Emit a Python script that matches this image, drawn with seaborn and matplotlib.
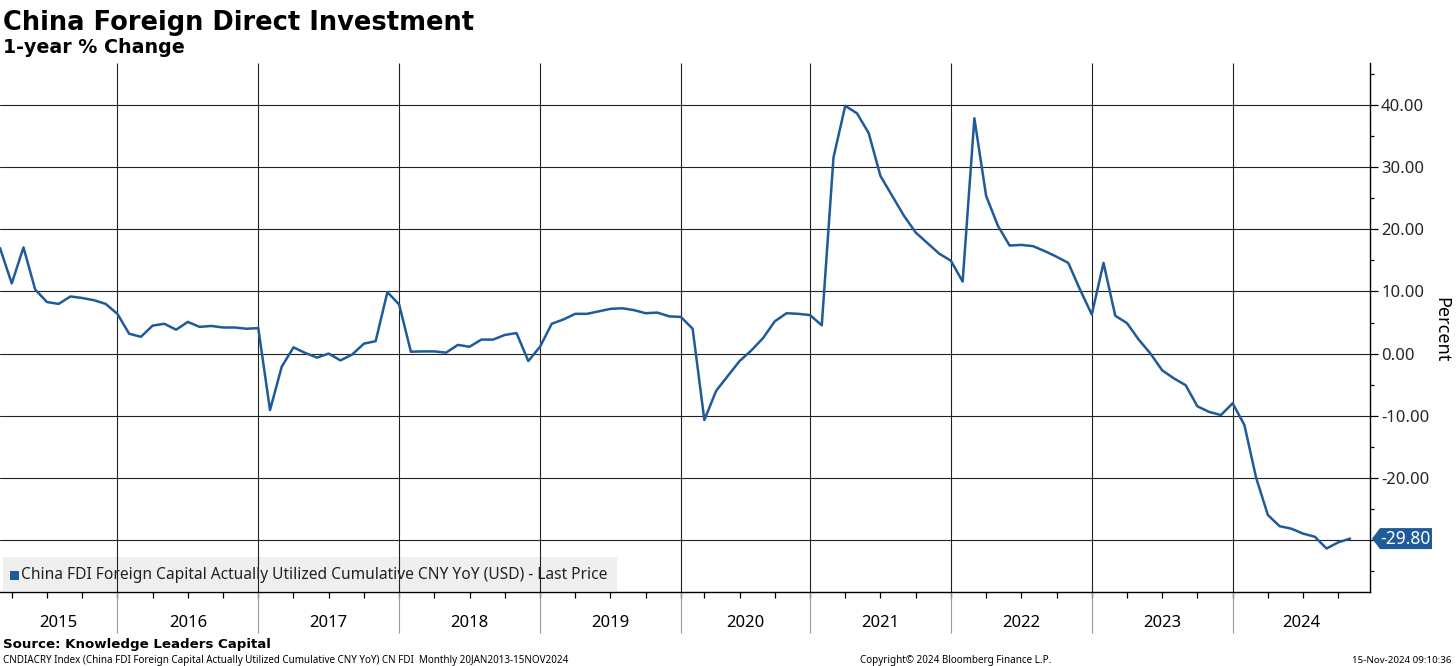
import numpy as np
import pandas as pd
import matplotlib
matplotlib.use("Agg")
import matplotlib.pyplot as plt
import seaborn as sns
from matplotlib.patches import Rectangle, Polygon
from matplotlib.transforms import blended_transform_factory

# ---------------- data ----------------
years = [2015, 2016, 2017, 2018, 2019, 2020, 2021, 2022, 2023, 2024]

months_2015 = [2, 3, 4, 5, 6, 7, 8, 9, 10, 11, 12]
months_2016 = [1, 2, 3, 4, 5, 6, 7, 8, 9, 10, 11, 12]
months_2017 = [1, 2, 3, 4, 5, 6, 7, 8, 9, 10, 11, 12]
months_2018 = [1, 2, 3, 4, 5, 6, 7, 8, 9, 10, 11, 12]
months_2019 = [1, 2, 3, 4, 5, 6, 7, 8, 9, 10, 11, 12]
months_2020 = [1, 3, 4, 5, 6, 7, 8, 9, 10, 11, 12]
months_2021 = [1, 2, 3, 4, 5, 6, 7, 8, 9, 10, 11, 12]
months_2022 = [1, 2, 3, 4, 5, 6, 7, 8, 9, 10, 11, 12]
months_2023 = [1, 2, 3, 4, 5, 6, 7, 8, 9, 10, 11, 12]
months_2024 = [1, 2, 3, 4, 5, 6, 7, 8, 9, 10]

yoy_2015 = [17.0, 11.3, 17.1, 10.3, 8.3, 8.0, 9.2, 8.95, 8.6, 8.0, 6.4]
yoy_2016 = [3.2, 2.7, 4.5, 4.8, 3.85, 5.1, 4.3, 4.45, 4.2, 4.2, 4.0, 4.1]
yoy_2017 = [-9.1, -2.1, 1.0, 0.1, -0.65, 0.0, -1.1, -0.15, 1.6, 2.0, 9.9, 7.9]
yoy_2018 = [0.3, 0.35, 0.35, 0.15, 1.4, 1.1, 2.25, 2.25, 3.0, 3.3, -1.2, 1.1]
yoy_2019 = [4.8, 5.5, 6.4, 6.4, 6.8, 7.2, 7.3, 7.0, 6.5, 6.6, 6.0, 5.9]
yoy_2020 = [4.0, -10.7, -6.0, -3.6, -1.2, 0.5, 2.5, 5.2, 6.5, 6.4, 6.2]
yoy_2021 = [4.55, 31.6, 39.9, 38.7, 35.5, 28.6, 25.4, 22.2, 19.5, 17.8, 16.1, 14.95]
yoy_2022 = [11.6, 37.9, 25.4, 20.6, 17.4, 17.5, 17.3, 16.5, 15.6, 14.6, 10.3, 6.3]
yoy_2023 = [14.6, 6.1, 4.9, 2.25, 0.0, -2.7, -4.0, -5.1, -8.5, -9.4, -9.9, -8.0]
yoy_2024 = [-11.5, -20.0, -26.0, -27.8, -28.2, -29.0, -29.5, -31.4, -30.4, -29.8]

months_by_year = [months_2015, months_2016, months_2017, months_2018, months_2019,
                  months_2020, months_2021, months_2022, months_2023, months_2024]
yoy_by_year = [yoy_2015, yoy_2016, yoy_2017, yoy_2018, yoy_2019,
               yoy_2020, yoy_2021, yoy_2022, yoy_2023, yoy_2024]

y_ticks = [-30, -20, -10, 0, 10, 20, 30, 40]

title = "China Foreign Direct Investment"
subtitle = "1-year % Change"
legend_label = "China FDI Foreign Capital Actually Utilized Cumulative CNY YoY (USD) - Last Price"
source_text = "Source: Knowledge Leaders Capital"
footer_left = "CNDIACRY Index (China FDI Foreign Capital Actually Utilized Cumulative CNY YoY) CN FDI  Monthly 20JAN2013-15NOV2024"
footer_mid = "Copyright\u00a9 2024 Bloomberg Finance L.P."
footer_right = "15-Nov-2024 09:10:36"
y_label = "Percent"

# ---------------- build table ----------------
rows = []
for yr, ms, vs in zip(years, months_by_year, yoy_by_year):
    for m, v in zip(ms, vs):
        rows.append((yr, m, v))
df = pd.DataFrame(rows, columns=["year", "month", "yoy"])
df["obs"] = np.arange(len(df))

# ---------------- style ----------------
sns.set_style("white")
plt.rcParams["font.family"] = ["Noto Sans", "DejaVu Sans"]
plt.rcParams["axes.unicode_minus"] = False

W, H = 1456, 666
LINE = "#1f5a99"
GRID = "#222222"

fig = plt.figure(figsize=(W / 100, H / 100), dpi=100)
ax = fig.add_axes([0, 1 - 592 / H, 1370 / W, (592 - 63) / H])

sns.lineplot(data=df, x="obs", y="yoy", ax=ax, color=LINE, linewidth=1.8,
             zorder=3, legend=False)

last_obs = df["obs"].iloc[-1]
last_val = df["yoy"].iloc[-1]
x_left, x_right = 0, last_obs + 1.7
ax.set_xlim(x_left, x_right)
ax.set_ylim(-38.4, 46.8)
ax.set_xlabel("")
ax.set_ylabel("")

# spines
for s in ["left", "top"]:
    ax.spines[s].set_visible(False)
for s in ["right", "bottom"]:
    ax.spines[s].set_visible(True)
    ax.spines[s].set_color("black")
    ax.spines[s].set_linewidth(1.0)

# y axis on right
ax.yaxis.tick_right()
ax.set_yticks(y_ticks)
ax.set_yticklabels(["" if v == -30 else f"{v:.2f}" for v in y_ticks])
ax.set_yticks([v + 5 for v in y_ticks[:-1]] + [-35, 45], minor=True)
ax.tick_params(axis="y", which="major", right=True, left=False, length=6,
               width=0.9, color="black", labelsize=12, pad=2, direction="out")
ax.tick_params(axis="y", which="minor", right=True, left=False, length=3,
               width=0.9, color="black", direction="out")
ax.set_axisbelow(True)
ax.grid(axis="y", which="major", color=GRID, linewidth=0.8)
ax.grid(axis="x", visible=False)

# x axis: quarterly ticks, year separators
quarter_obs = df.loc[df["month"].isin([3, 6, 9, 12]), "obs"].tolist()
ax.set_xticks(quarter_obs)
ax.set_xticklabels([])
ax.tick_params(axis="x", which="major", bottom=True, length=4, width=0.9,
               color="black", direction="out")

blend = blended_transform_factory(ax.transData, ax.transAxes)
dec_obs = df.loc[(df["month"] == 12) & (df["year"] < years[-1]), "obs"].tolist()
ax.vlines(dec_obs, 0, 1, transform=blend, colors=GRID, linewidth=0.8, zorder=1)
ax.vlines(dec_obs, -0.0775, 0, transform=blend, colors="#9a9a9a",
          linewidth=0.8, zorder=1, clip_on=False)

bounds = [x_left] + dec_obs + [x_right]
for i, yr in enumerate(years):
    cx = (bounds[i] + bounds[i + 1]) / 2
    ax.text(cx, -0.0586, str(yr), transform=blend, ha="center", va="center",
            fontsize=12, color="black", clip_on=False)

# legend box (under grid lines)
ax.add_patch(Rectangle((3 / W, 1 - 591 / H), 614 / W, 34 / H,
                       transform=fig.transFigure, facecolor="#efefef",
                       edgecolor="none", zorder=0.1, clip_on=False))
ax.add_patch(Rectangle((10 / W, 1 - 580 / H), 9 / W, 9 / H,
                       transform=fig.transFigure, facecolor=LINE,
                       edgecolor="none", zorder=0.2, clip_on=False))
ax.text(21 / W, 1 - 575 / H, legend_label, transform=fig.transFigure,
        ha="left", va="center", fontsize=11.2, color="#222222", zorder=0.3)

# last price tag
tb = blended_transform_factory(ax.transAxes, ax.transData)
px = 1370.0
hh = 10.5 * (ax.get_ylim()[1] - ax.get_ylim()[0]) / 529.0
x_tip = 1 + 2 / px
x_bl = 1 + 10 / px
x_br = 1 + 62 / px
tag = Polygon([(x_tip, last_val), (x_bl, last_val + hh), (x_br, last_val + hh),
               (x_br, last_val - hh), (x_bl, last_val - hh)], closed=True,
              transform=tb, facecolor=LINE, edgecolor="none", zorder=10,
              clip_on=False)
ax.add_patch(tag)
ax.text((x_bl + x_br) / 2 - 1 / px, last_val, f"{last_val:.2f}", transform=tb,
        ha="center", va="center", color="white", fontsize=12.5, zorder=11,
        clip_on=False)

# right axis label
fig.text(1441 / W, 1 - 330 / H, y_label, rotation=270, ha="center",
         va="center", fontsize=13, color="black")

# titles
fig.text(3 / W, 1 - 30 / H, title, ha="left", va="baseline", fontsize=18.5,
         fontweight="bold", family="DejaVu Sans", color="black")
fig.text(3 / W, 1 - 53 / H, subtitle, ha="left", va="baseline", fontsize=13.7,
         fontweight="bold", family="DejaVu Sans", color="black")

# footer
fig.text(3 / W, 1 - 648 / H, source_text, ha="left", va="baseline",
         fontsize=9.6, fontweight="bold", family="DejaVu Sans", color="black")
fig.text(3 / W, 1 - 663 / H, footer_left, ha="left", va="baseline",
         fontsize=7.1, color="black")
fig.text(956 / W, 1 - 663 / H, footer_mid, ha="center", va="baseline",
         fontsize=7.1, color="black")
fig.text(1452 / W, 1 - 663 / H, footer_right, ha="right", va="baseline",
         fontsize=7.0, color="black")

fig.savefig("out.png", dpi=100)
